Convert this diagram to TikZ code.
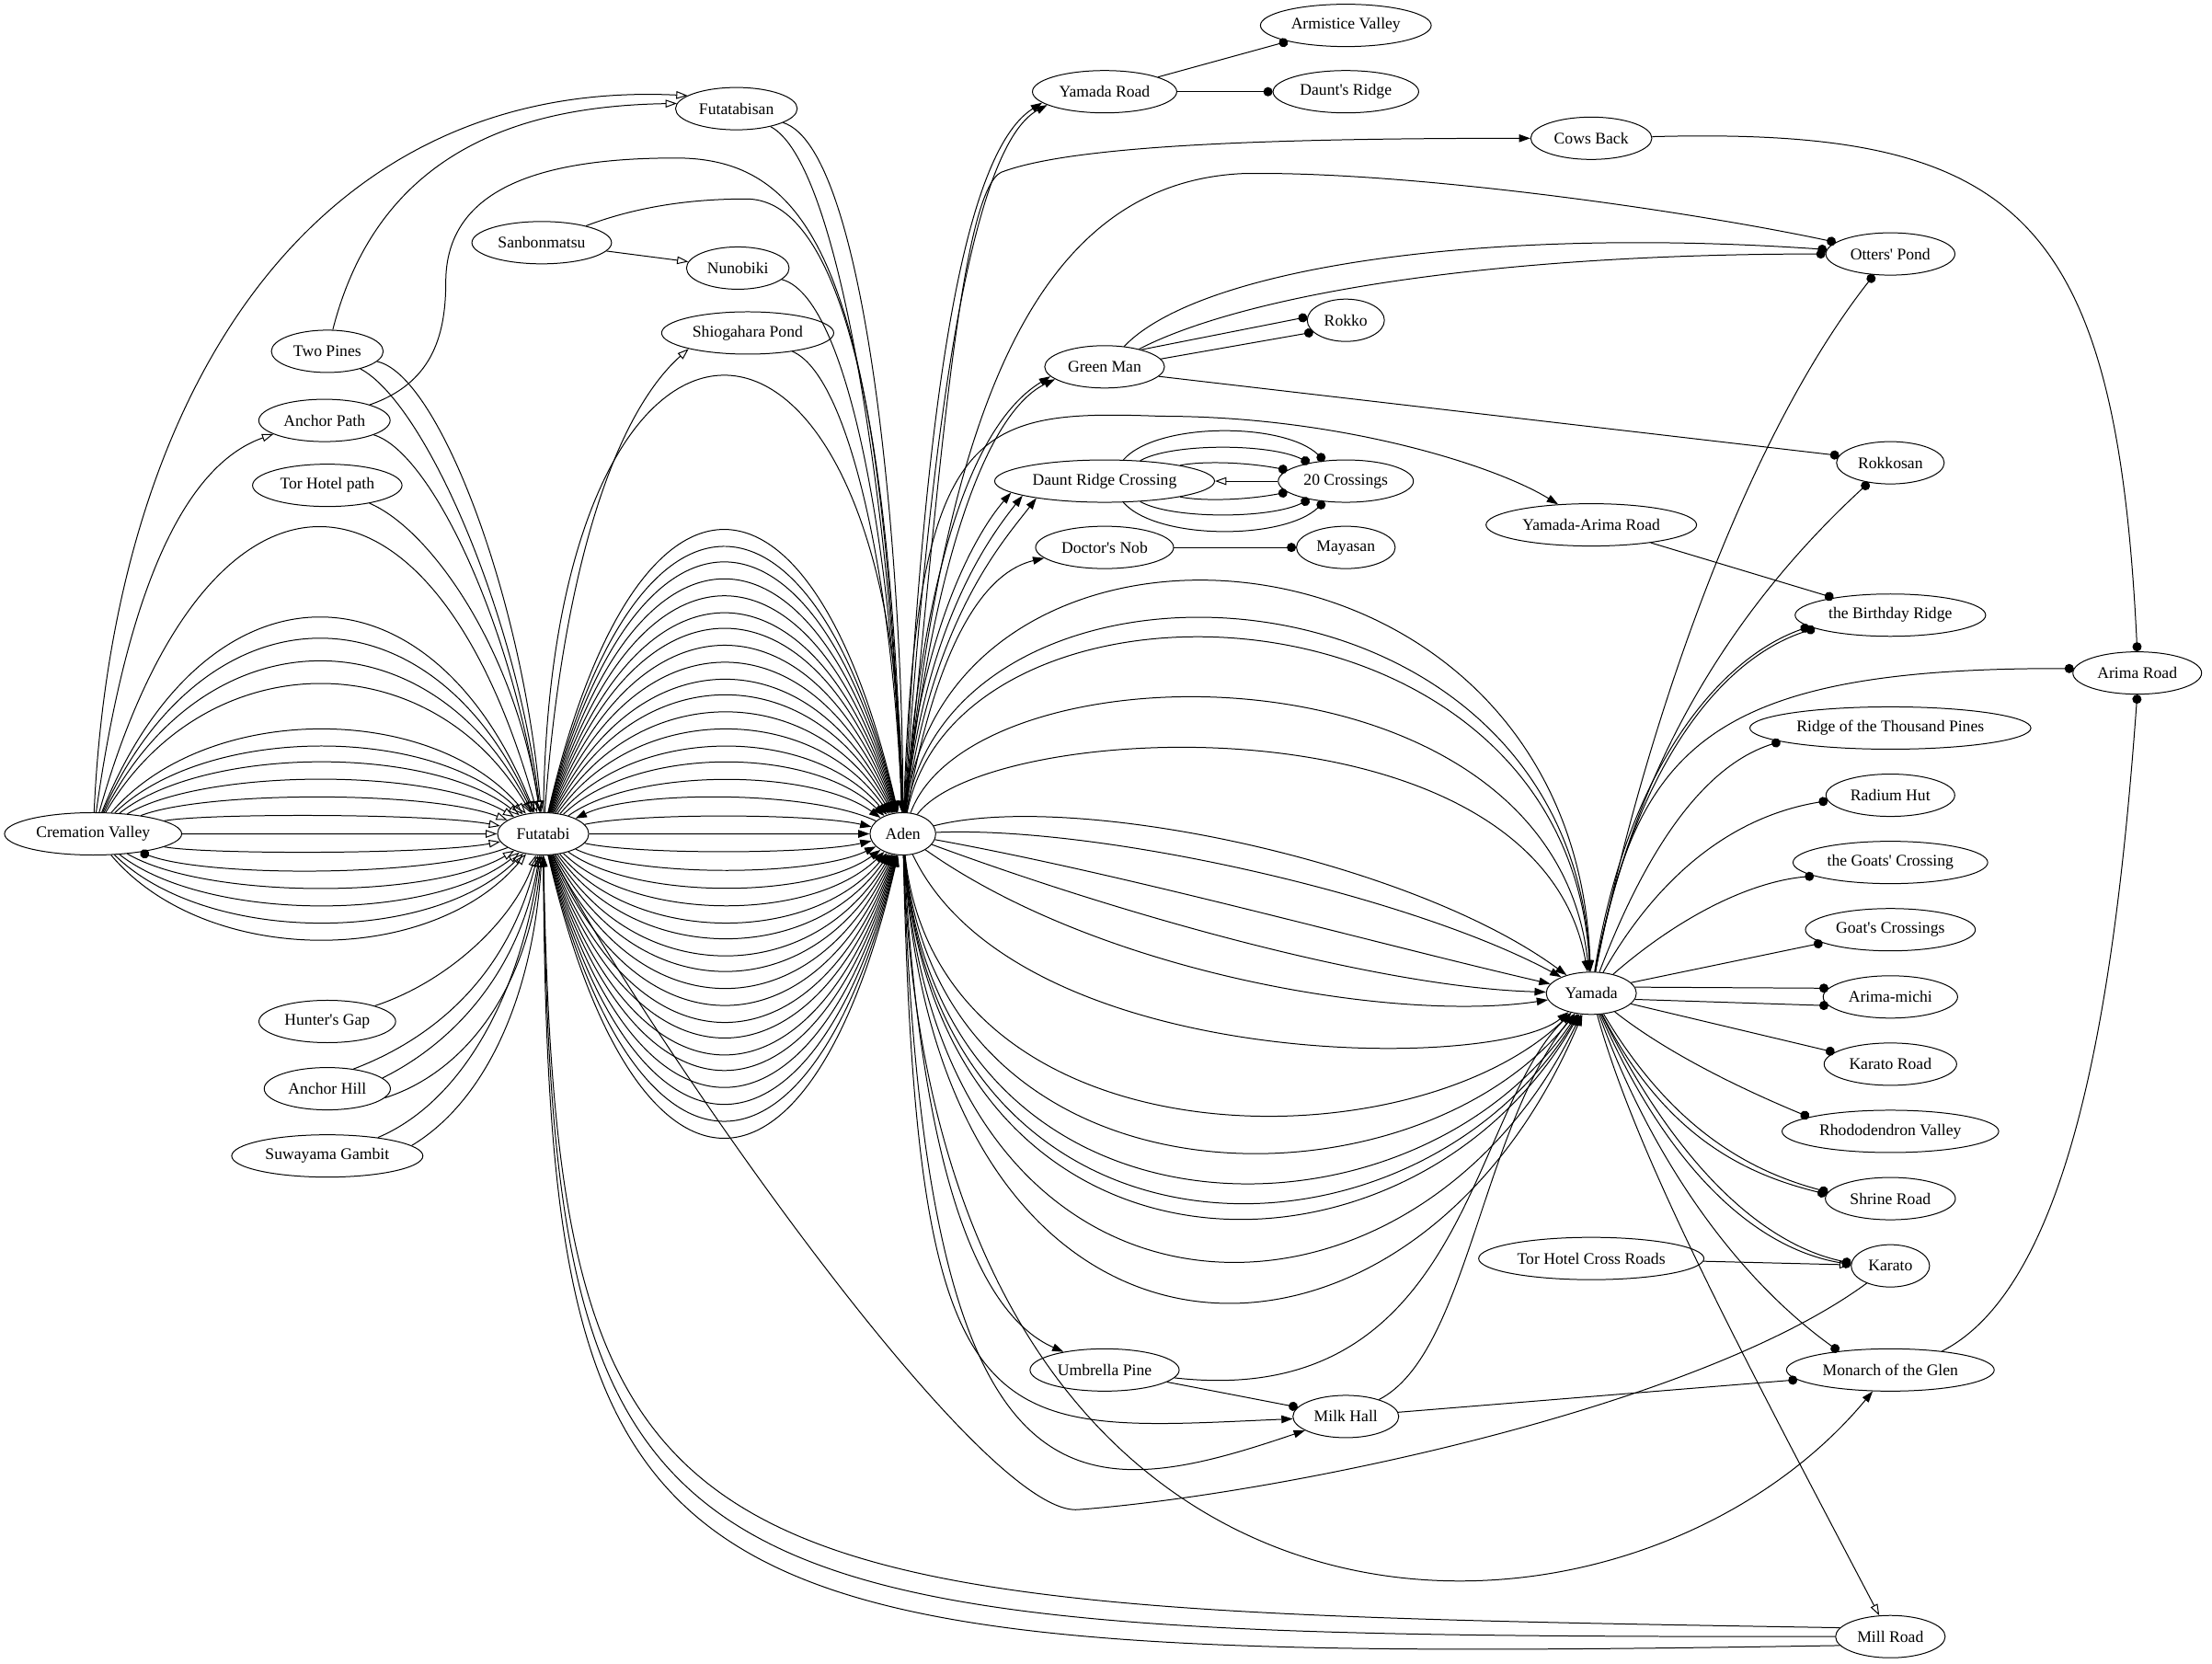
\documentclass[tikz,border=0pt]{standalone}
\usepackage{fontspec}
\setmainfont{Liberation Serif}
\usetikzlibrary{positioning,arrows.meta,shapes.geometric}

\begin{document}
\begin{tikzpicture}[
  x=1pt, y=-1pt,
  node distance=17pt,
  every node/.style={draw,ellipse,inner xsep=4pt,inner ysep=2pt,minimum height=30pt,font=\fontsize{11.5}{13}\selectfont},
  every path/.style={line width=0.65pt,>={Triangle[length=8pt,width=5.5pt]}},
  hollow/.style={-{Triangle[open,length=8pt,width=5.5pt]}},
  knob/.style={-{Circle[length=6.5pt]}},
  ]
  \useasboundingbox (0,0) rectangle (1568,1179);
  \node (trailCremation) at (66,591) {Cremation Valley};
  \node (trailFutatabi) at (385,591) {Futatabi};
  \node (trailAden) at (640,591) {Aden};
  \node (trailYamada) at (1128,704) {Yamada};
  \node (trailFutatabisan) at (522,77) {Futatabisan};
  \node (trailSanbonmatsu) at (384,172) {Sanbonmatsu};
  \node (trailNunobiki) at (523,190) {Nunobiki};
  \node (trailShiogahara) at (530,236) {Shiogahara Pond};
  \node (trailTwoPines) at (232,249) {Two Pines};
  \node (trailAnchorPath) at (230,298) {Anchor Path};
  \node (trailTorPath) at (232,344) {Tor Hotel path};
  \node (trailHunter) at (232,724) {Hunter\textquotesingle s Gap};
  \node[below=of trailHunter] (trailAnchorHill) {Anchor Hill};
  \node[below=of trailAnchorHill] (trailSuwayama) {Suwayama Gambit};
  \node (trailYamadaRoad) at (783,65) {Yamada Road};
  \node (trailArmistice) at (954,18) {Armistice Valley};
  \node (trailDauntsRidge) at (954,65) {Daunt\textquotesingle s Ridge};
  \node (trailCows) at (1128,98) {Cows Back};
  \node (trailOtters) at (1340,180) {Otters\textquotesingle\ Pond};
  \node (trailRokko) at (954,227) {Rokko};
  \node (trailGreen) at (783,260) {Green Man};
  \node (trailRokkosan) at (1340,328) {Rokkosan};
  \node (trailDauntCrossing) at (783,341) {Daunt Ridge Crossing};
  \node (trailTwenty) at (954,341) {20 Crossings};
  \node (trailYamadaArima) at (1128,372) {Yamada-Arima Road};
  \node (trailDoctor) at (783,388) {Doctor\textquotesingle s Nob};
  \node (trailMayasan) at (954,388) {Mayasan};
  \node (trailBirthday) at (1340,436) {the Birthday Ridge};
  \node (trailArimaRoad) at (1515,477) {Arima Road};
  \node (trailRidge) at (1340,516) {Ridge of the Thousand Pines};
  \node[below=of trailRidge] (trailRadium) {Radium Hut};
  \node[below=of trailRadium] (trailGoatsCrossing) {the Goats\textquotesingle\ Crossing};
  \node[below=of trailGoatsCrossing] (trailGoatCrossings) {Goat\textquotesingle s Crossings};
  \node[below=of trailGoatCrossings] (trailArimaMichi) {Arima-michi};
  \node[below=of trailArimaMichi] (trailKaratoRoad) {Karato Road};
  \node[below=of trailKaratoRoad] (trailRhododendron) {Rhododendron Valley};
  \node[below=of trailRhododendron] (trailShrine) {Shrine Road};
  \node[below=of trailShrine] (trailKarato) {Karato};
  \node (trailTorCross) at (1128,892) {Tor Hotel Cross Roads};
  \node (trailUmbrella) at (783,971) {Umbrella Pine};
  \node (trailMonarch) at (1340,971) {Monarch of the Glen};
  \node (trailMilk) at (954,1004) {Milk Hall};
  \node (trailMill) at (1340,1160) {Mill Road};

  \foreach \p in {378,442,457,473,489,521,533,544,556,568,580,591,602,626,638,650,662}
    \draw[hollow] (trailCremation) .. controls (146,{(\p-147.75)/0.75}) and (305,{(\p-147.75)/0.75}) .. (trailFutatabi);
  \draw[knob] (trailFutatabi) .. controls (305,622) and (146,622) .. (trailCremation);
  \draw[hollow] (trailCremation) .. controls (80,280) and (220,55) .. (trailFutatabisan.165);
  \draw[hollow] (trailTwoPines) .. controls (270,100) and (380,75) .. (trailFutatabisan.175);
  \draw[hollow] (trailCremation) .. controls (90,420) and (130,330) .. (trailAnchorPath.195);
  \draw[hollow] (trailTwoPines) .. controls (310,265) and (370,420) .. (trailFutatabi);
  \draw[hollow] (trailTwoPines) .. controls (300,285) and (365,430) .. (trailFutatabi);
  \draw[hollow] (trailAnchorPath) .. controls (305,320) and (362,440) .. (trailFutatabi);
  \draw[hollow] (trailTorPath) .. controls (305,375) and (365,460) .. (trailFutatabi);
  \draw[hollow] (trailHunter) .. controls (320,695) and (365,650) .. (trailFutatabi);
  \draw[hollow] (trailAnchorHill.37) .. controls (310,735) and (360,690) .. (trailFutatabi);
  \draw[hollow] (trailAnchorHill.11) .. controls (320,740) and (368,690) .. (trailFutatabi);
  \draw[hollow] (trailAnchorHill.-9) .. controls (330,760) and (375,700) .. (trailFutatabi);
  \draw[hollow] (trailSuwayama.20) .. controls (330,780) and (370,700) .. (trailFutatabi);
  \draw[hollow] (trailSuwayama.7) .. controls (345,780) and (378,705) .. (trailFutatabi);
  \draw[hollow] (trailFutatabi) .. controls (400,390) and (440,290) .. (trailShiogahara.195);
  \draw[hollow] (trailSanbonmatsu) -- (trailNunobiki);

  \draw[->] (trailFutatabi) .. controls (390,164) and (635,164) .. (trailAden);
  \foreach \p in {380,392,403,415,427,439,450,462,474,486,497,509,521,533,544,556,580,591,602,614,626,638,650,661,673,684,696,708,720,731,743,754,766,778,790,802}
    \draw[->] (trailFutatabi) .. controls (450,{(\p-147.75)/0.75}) and (575,{(\p-147.75)/0.75}) .. (trailAden);
  \draw[->] (trailAden) .. controls (575,560) and (450,560) .. (trailFutatabi);
  \draw[->] (trailFutatabisan) .. controls (615,105) and (640,400) .. (trailAden);
  \draw[->] (trailFutatabisan) .. controls (600,118) and (634,400) .. (trailAden);
  \draw[->] (trailSanbonmatsu) .. controls (455,145) and (495,141) .. (529,141) .. controls (585,141) and (630,250) .. (trailAden);
  \draw[->] (trailAnchorPath) .. controls (305,272) and (316,240) .. (316,200) .. controls (316,135) and (380,112) .. (479,112) .. controls (580,112) and (625,200) .. (trailAden);
  \draw[->] (trailNunobiki) .. controls (600,210) and (632,380) .. (trailAden);
  \draw[->] (trailShiogahara) .. controls (600,265) and (632,400) .. (trailAden);

  \draw[->] (trailAden) .. controls (655,300) and (680,110) .. (trailYamadaRoad.190);
  \draw[->] (trailAden) .. controls (660,300) and (688,104) .. (trailYamadaRoad.193);
  \draw[->] (trailAden) .. controls (665,350) and (680,135) .. (710,122) .. controls (760,103) and (900,98) .. (trailCows);
  \draw[knob] (trailAden) .. controls (670,300) and (730,130) .. (881,123) .. controls (1000,121) and (1200,150) .. (trailOtters);
  \draw[->] (trailAden) .. controls (655,400) and (690,300) .. (trailGreen.190);
  \draw[->] (trailAden) .. controls (660,410) and (696,294) .. (trailGreen.194);
  \draw[->] (trailAden) .. controls (652,450) and (690,380) .. (trailDauntCrossing.187);
  \draw[->] (trailAden) .. controls (656,445) and (698,385) .. (trailDauntCrossing.190);
  \draw[->] (trailAden) .. controls (660,440) and (710,385) .. (trailDauntCrossing.194);
  \draw[->] (trailAden) .. controls (665,450) and (700,405) .. (trailDoctor.190);
  \draw[->] (trailAden) .. controls (650,300) and (690,290) .. (823,295) .. controls (950,295) and (1060,330) .. (trailYamadaArima);

  \draw[knob] (trailYamadaRoad) -- (trailArmistice);
  \draw[knob] (trailYamadaRoad) -- (trailDauntsRidge);
  \draw[knob] (trailGreen) .. controls (850,190) and (1050,160) .. (trailOtters);
  \draw[knob] (trailGreen) .. controls (880,210) and (1050,180) .. (trailOtters);
  \draw[knob] (trailGreen.25) -- (trailRokko.175);
  \draw[knob] (trailGreen.8) -- (trailRokko.200);
  \draw[knob] (trailGreen.-10) -- (trailRokkosan.172);
  \draw[hollow] (trailTwenty) -- (trailDauntCrossing);
  \foreach \c/\d in {820/299,830/314,850/327,820/383,830/368,850/355}
    \draw[knob] (trailDauntCrossing) .. controls (\c,\d) and ({1730-\c},\d) .. (trailTwenty);
  \draw[knob] (trailDoctor) -- (trailMayasan);
  \draw[knob] (trailYamadaArima) -- (trailBirthday.163);

  \foreach \ax/\ay/\bx/\by in {670/330/1115/355, 675/370/1112/385, 680/390/1110/402, 690/455/1100/450, 700/510/1090/490, 760/560/1000/610, 780/585/1000/635, 800/620/980/670, 800/650/980/700, 780/690/990/725, 720/760/1060/760, 665/828/1000/828, 665/864/1000/864, 665/893/1000/893, 665/912/1000/912, 665/927/1000/927, 665/968/1000/968, 665/1007/1000/1007}
    \draw[->] (trailAden) .. controls (\ax,\ay) and (\bx,\by) .. (trailYamada);
  \draw[->] (trailUmbrella) .. controls (1040,1000) and (1040,790) .. (trailYamada);
  \draw[->] (trailMilk) .. controls (1040,960) and (1050,800) .. (trailYamada);
  \draw[->] (trailAden) .. controls (652,820) and (690,930) .. (trailUmbrella);
  \draw[->] (trailAden) .. controls (650,1030) and (700,1015) .. (trailMilk);
  \draw[->] (trailAden) .. controls (655,1080) and (760,1070) .. (trailMilk);
  \draw[->] (trailAden) .. controls (660,1210) and (1150,1200) .. (trailMonarch);
  \draw[knob] (trailUmbrella) -- (trailMilk);
  \draw[knob] (trailMilk) -- (trailMonarch.186);

  \draw[knob] (trailYamada) .. controls (1160,540) and (1230,320) .. (trailOtters);
  \draw[knob] (trailYamada) .. controls (1160,530) and (1240,420) .. (trailRokkosan);
  \draw[knob] (trailYamada) .. controls (1150,560) and (1210,470) .. (trailBirthday.188);
  \draw[knob] (trailYamada) .. controls (1155,555) and (1214,468) .. (trailBirthday.190);
  \draw[knob] (trailYamada) .. controls (1160,530) and (1210,473) .. (trailArimaRoad.176);
  \draw[knob] (trailYamada) .. controls (1160,620) and (1200,545) .. (trailRidge.187);
  \draw[knob] (trailYamada) .. controls (1170,630) and (1220,580) .. (trailRadium.185);
  \draw[knob] (trailYamada) .. controls (1190,650) and (1240,625) .. (trailGoatsCrossing.190);
  \draw[knob] (trailYamada.15) -- (trailGoatCrossings.191);
  \draw[knob] (trailYamada.8) -- (trailArimaMichi.172);
  \draw[knob] (trailYamada.-8) -- (trailArimaMichi.188);
  \draw[knob] (trailYamada.-15) -- (trailKaratoRoad.168);
  \draw[knob] (trailYamada) .. controls (1180,745) and (1230,770) .. (trailRhododendron.170);
  \draw[knob] (trailYamada) .. controls (1185,800) and (1240,830) .. (trailShrine.174);
  \draw[knob] (trailYamada) .. controls (1180,805) and (1236,832) .. (trailShrine.176);
  \draw[knob] (trailYamada) .. controls (1180,810) and (1240,880) .. (trailKarato.176);
  \draw[knob] (trailYamada) .. controls (1176,815) and (1236,884) .. (trailKarato.178);
  \draw[knob] (trailYamada) .. controls (1170,820) and (1230,905) .. (trailMonarch.160);
  \draw[hollow] (trailYamada) .. controls (1160,820) and (1235,960) .. (trailMill);
  \draw[hollow] (trailTorCross) -- (trailKarato);
  \draw[knob] (trailCows) .. controls (1430,90) and (1500,150) .. (trailArimaRoad.north);
  \draw[knob] (trailMonarch.20) .. controls (1470,910) and (1500,700) .. (trailArimaRoad.south);

  \draw (trailFutatabi) .. controls (430,690) and (690,1075) .. (764,1070) .. controls (900,1060) and (1200,1000) .. (trailKarato);
  \draw[->] (trailMill.170) .. controls (480,1140) and (395,1140) .. (trailFutatabi);
  \draw[->] (trailMill) .. controls (470,1160) and (392,1150) .. (trailFutatabi);
  \draw[->] (trailMill.190) .. controls (460,1180) and (389,1160) .. (trailFutatabi);
\end{tikzpicture}
\end{document}
